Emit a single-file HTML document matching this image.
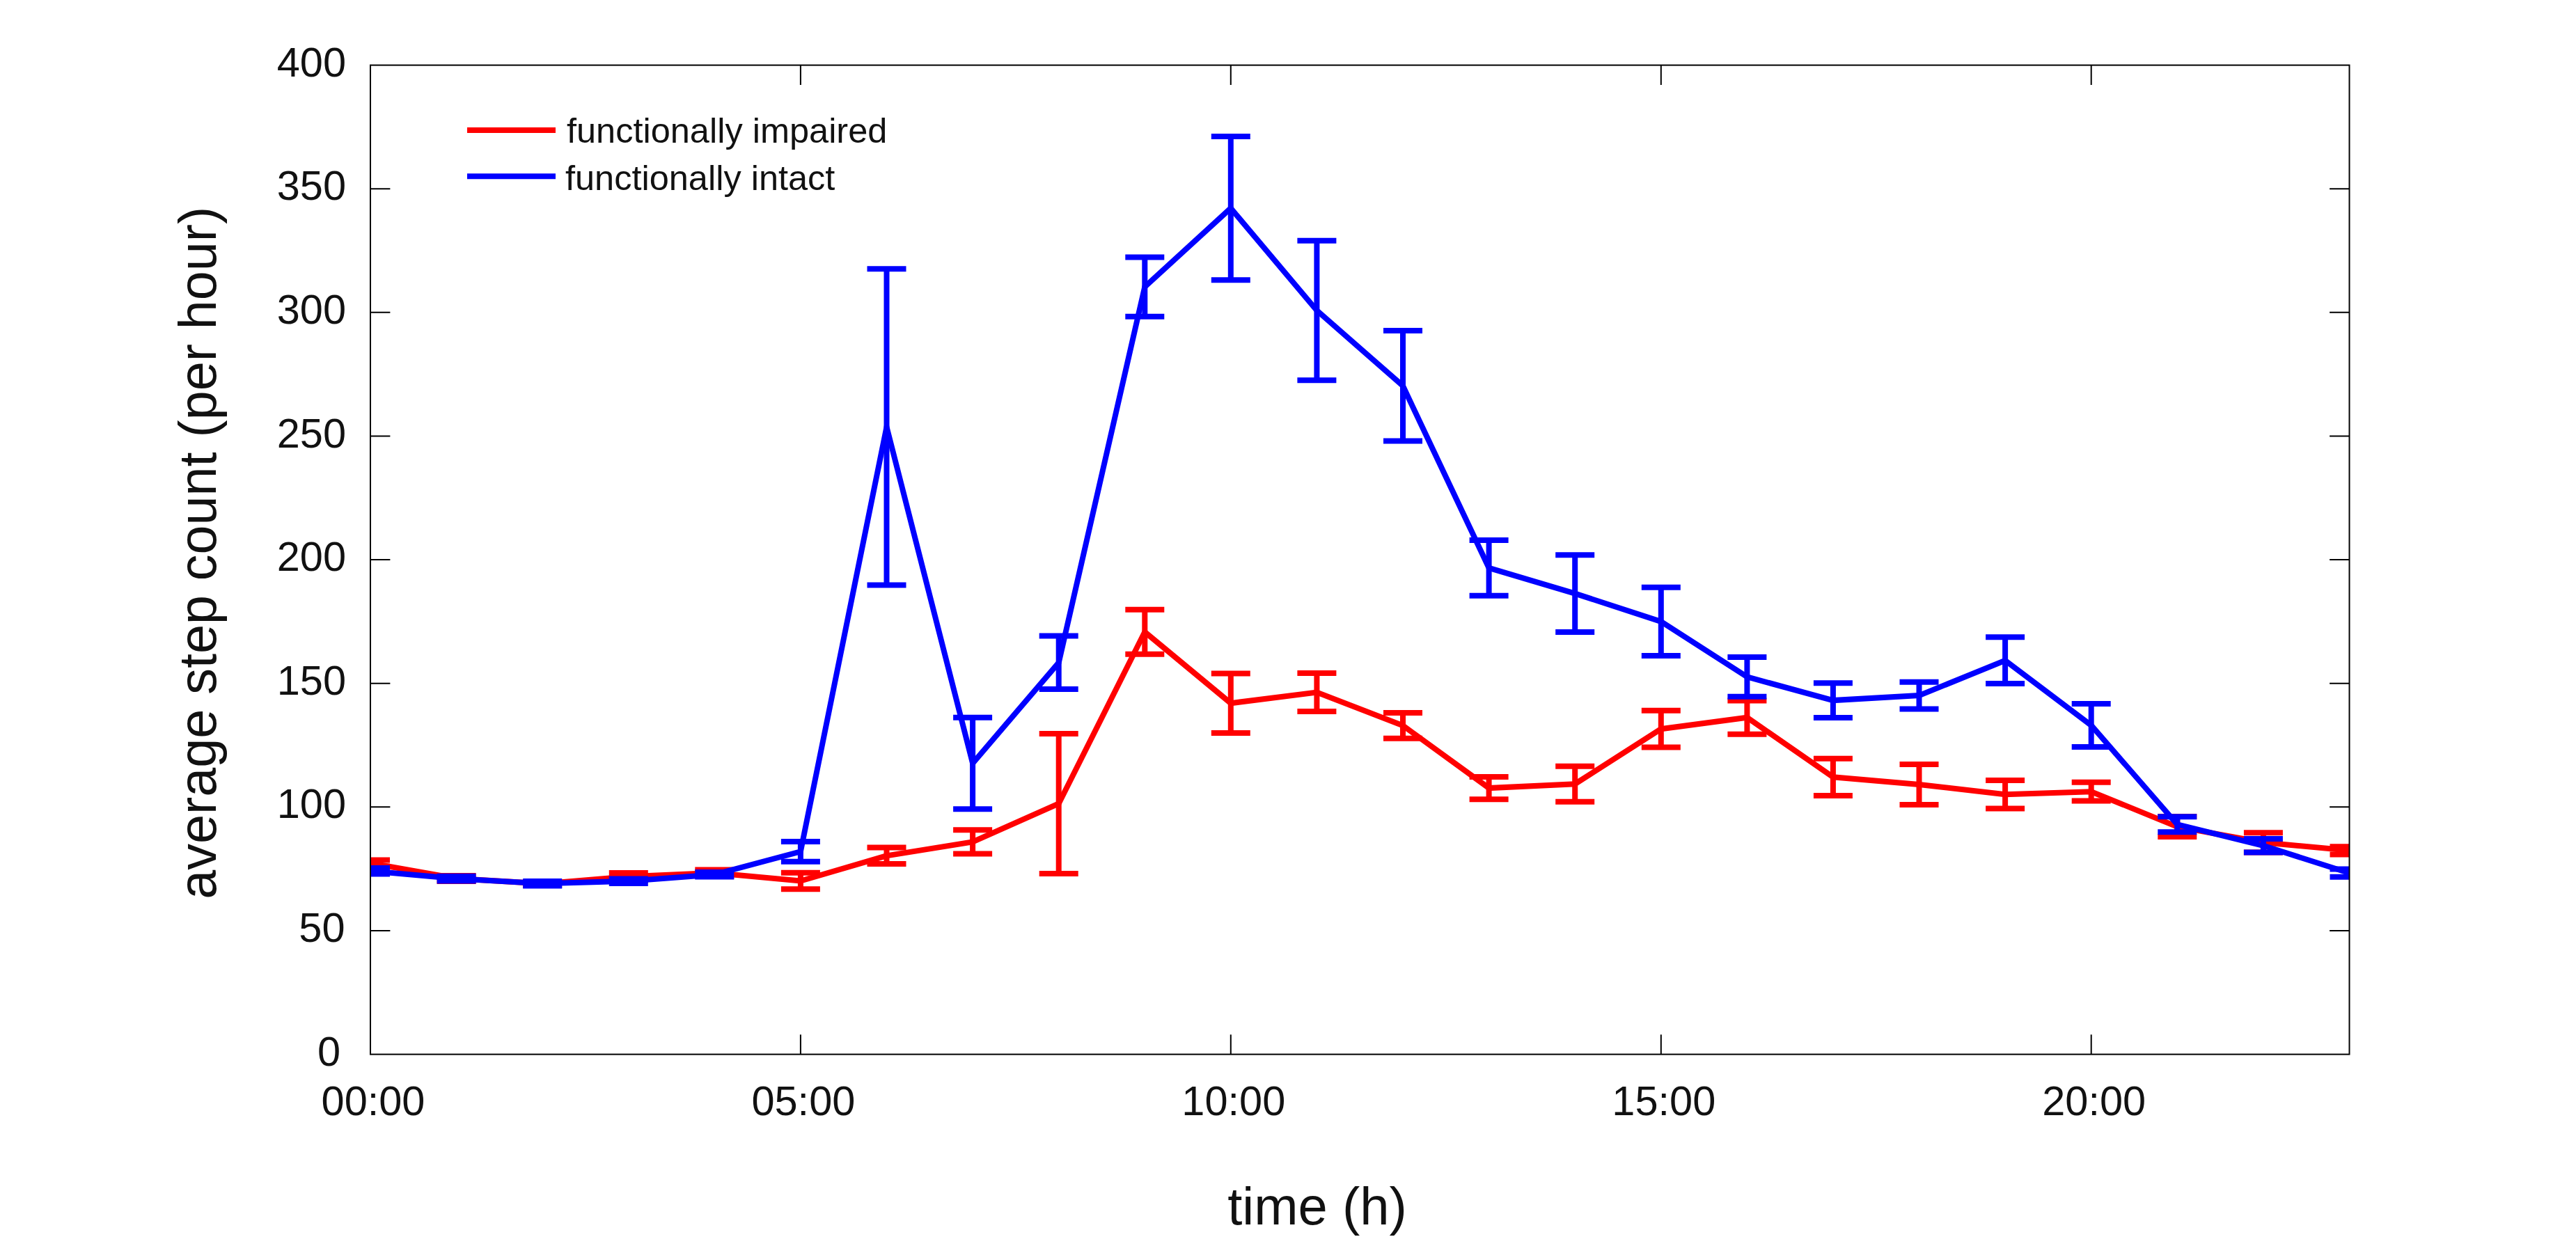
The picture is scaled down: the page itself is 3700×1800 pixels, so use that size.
<!DOCTYPE html>
<html><head><meta charset="utf-8"><style>
html,body{margin:0;padding:0;background:#fff;}
svg{display:block;}
text{font-family:"Liberation Sans",sans-serif;fill:#111;}
</style></head><body>
<svg width="3700" height="1800" viewBox="0 0 3700 1800">
<defs><clipPath id="c"><rect x="532.0" y="93.6" width="2842.5" height="1421.0"/></clipPath></defs>
<rect width="3700" height="1800" fill="#fff"/>
<g clip-path="url(#c)">
<path d="M532.0 1235.4V1244.6M504.0 1235.4H560.0M504.0 1244.6H560.0M655.6 1258.0V1266.0M627.6 1258.0H683.6M627.6 1266.0H683.6M779.2 1267.0V1272.0M751.2 1267.0H807.2M751.2 1272.0H807.2M902.8 1253.9V1264.5M874.8 1253.9H930.8M874.8 1264.5H930.8M1026.3 1249.6V1258.5M998.3 1249.6H1054.3M998.3 1258.5H1054.3M1149.9 1253.8V1277.2M1121.9 1253.8H1177.9M1121.9 1277.2H1177.9M1273.5 1217.6V1241.0M1245.5 1217.6H1301.5M1245.5 1241.0H1301.5M1397.1 1192.2V1226.6M1369.1 1192.2H1425.1M1369.1 1226.6H1425.1M1520.7 1054.0V1255.1M1492.7 1054.0H1548.7M1492.7 1255.1H1548.7M1644.3 875.7V939.8M1616.3 875.7H1672.3M1616.3 939.8H1672.3M1767.8 967.5V1052.9M1739.8 967.5H1795.8M1739.8 1052.9H1795.8M1891.4 967.0V1022.0M1863.4 967.0H1919.4M1863.4 1022.0H1919.4M2015.0 1023.9V1060.8M1987.0 1023.9H2043.0M1987.0 1060.8H2043.0M2138.6 1115.9V1148.3M2110.6 1115.9H2166.6M2110.6 1148.3H2166.6M2262.2 1100.7V1151.8M2234.2 1100.7H2290.2M2234.2 1151.8H2290.2M2385.8 1020.8V1073.6M2357.8 1020.8H2413.8M2357.8 1073.6H2413.8M2509.4 1006.6V1054.7M2481.4 1006.6H2537.4M2481.4 1054.7H2537.4M2632.9 1089.7V1142.9M2604.9 1089.7H2660.9M2604.9 1142.9H2660.9M2756.5 1098.0V1155.9M2728.5 1098.0H2784.5M2728.5 1155.9H2784.5M2880.1 1121.1V1161.5M2852.1 1121.1H2908.1M2852.1 1161.5H2908.1M3003.7 1123.7V1150.6M2975.7 1123.7H3031.7M2975.7 1150.6H3031.7M3127.3 1173.1V1202.1M3099.3 1173.1H3155.3M3099.3 1202.1H3155.3M3250.9 1196.3V1224.4M3222.9 1196.3H3278.9M3222.9 1224.4H3278.9M3374.5 1216.2V1227.4M3346.5 1216.2H3402.5M3346.5 1227.4H3402.5" stroke="#ff0000" stroke-width="8" fill="none" stroke-linecap="butt"/>
<polyline points="532.0,1240.0 655.6,1262.0 779.2,1269.5 902.8,1259.2 1026.3,1254.0 1149.9,1265.5 1273.5,1229.3 1397.1,1209.4 1520.7,1154.5 1644.3,907.8 1767.8,1010.2 1891.4,994.5 2015.0,1042.3 2138.6,1132.1 2262.2,1126.2 2385.8,1047.2 2509.4,1030.7 2632.9,1116.3 2756.5,1127.0 2880.1,1141.3 3003.7,1137.2 3127.3,1187.6 3250.9,1210.3 3374.5,1221.8" stroke="#ff0000" stroke-width="8" fill="none" stroke-linejoin="miter" stroke-miterlimit="10"/>

<path d="M532.0 1247.1V1255.4M504.0 1247.1H560.0M504.0 1255.4H560.0M655.6 1258.7V1265.6M627.6 1258.7H683.6M627.6 1265.6H683.6M779.2 1266.1V1272.6M751.2 1266.1H807.2M751.2 1272.6H807.2M902.8 1262.5V1269.0M874.8 1262.5H930.8M874.8 1269.0H930.8M1026.3 1253.0V1259.6M998.3 1253.0H1054.3M998.3 1259.6H1054.3M1149.9 1208.9V1237.7M1121.9 1208.9H1177.9M1121.9 1237.7H1177.9M1273.5 386.3V840.5M1245.5 386.3H1301.5M1245.5 840.5H1301.5M1397.1 1030.7V1162.2M1369.1 1030.7H1425.1M1369.1 1162.2H1425.1M1520.7 913.5V990.1M1492.7 913.5H1548.7M1492.7 990.1H1548.7M1644.3 369.6V454.7M1616.3 369.6H1672.3M1616.3 454.7H1672.3M1767.8 196.0V402.3M1739.8 196.0H1795.8M1739.8 402.3H1795.8M1891.4 345.8V546.3M1863.4 345.8H1919.4M1863.4 546.3H1919.4M2015.0 475.0V633.6M1987.0 475.0H2043.0M1987.0 633.6H2043.0M2138.6 776.1V855.7M2110.6 776.1H2166.6M2110.6 855.7H2166.6M2262.2 797.3V908.0M2234.2 797.3H2290.2M2234.2 908.0H2290.2M2385.8 843.8V942.1M2357.8 843.8H2413.8M2357.8 942.1H2413.8M2509.4 944.0V1000.8M2481.4 944.0H2537.4M2481.4 1000.8H2537.4M2632.9 981.2V1031.0M2604.9 981.2H2660.9M2604.9 1031.0H2660.9M2756.5 979.8V1018.4M2728.5 979.8H2784.5M2728.5 1018.4H2784.5M2880.1 915.3V982.1M2852.1 915.3H2908.1M2852.1 982.1H2908.1M3003.7 1011.1V1072.9M2975.7 1011.1H3031.7M2975.7 1072.9H3031.7M3127.3 1173.3V1195.3M3099.3 1173.3H3155.3M3099.3 1195.3H3155.3M3250.9 1205.1V1224.5M3222.9 1205.1H3278.9M3222.9 1224.5H3278.9M3374.5 1248.6V1259.7M3346.5 1248.6H3402.5M3346.5 1259.7H3402.5" stroke="#0000ff" stroke-width="8" fill="none" stroke-linecap="butt"/>
<polyline points="532.0,1251.2 655.6,1262.2 779.2,1269.3 902.8,1265.8 1026.3,1256.3 1149.9,1223.3 1273.5,613.4 1397.1,1096.5 1520.7,951.8 1644.3,412.1 1767.8,299.1 1891.4,446.0 2015.0,554.3 2138.6,815.9 2262.2,852.6 2385.8,893.0 2509.4,972.4 2632.9,1006.1 2756.5,999.1 2880.1,948.7 3003.7,1042.0 3127.3,1184.3 3250.9,1214.8 3374.5,1254.2" stroke="#0000ff" stroke-width="8" fill="none" stroke-linejoin="miter" stroke-miterlimit="10"/>

</g>
<rect x="532.0" y="93.6" width="2842.5" height="1421.0" fill="none" stroke="#000" stroke-width="2"/>
<path d="M532.0 1337.0H560.4M3374.5 1337.0H3346.1M532.0 1159.3H560.4M3374.5 1159.3H3346.1M532.0 981.7H560.4M3374.5 981.7H3346.1M532.0 804.1H560.4M3374.5 804.1H3346.1M532.0 626.5H560.4M3374.5 626.5H3346.1M532.0 448.8H560.4M3374.5 448.8H3346.1M532.0 271.2H560.4M3374.5 271.2H3346.1M1149.9 1514.6V1486.2M1149.9 93.6V122.0M1767.8 1514.6V1486.2M1767.8 93.6V122.0M2385.8 1514.6V1486.2M2385.8 93.6V122.0M3003.7 1514.6V1486.2M3003.7 93.6V122.0" stroke="#000" stroke-width="2" fill="none"/>
<g font-size="59.5">
<text x="489" y="1530.6" text-anchor="end">0</text><text x="495.5" y="1353.0" text-anchor="end">50</text><text x="497" y="1175.3" text-anchor="end">100</text><text x="497" y="997.7" text-anchor="end">150</text><text x="497" y="820.1" text-anchor="end">200</text><text x="497" y="642.5" text-anchor="end">250</text><text x="497" y="464.8" text-anchor="end">300</text><text x="497" y="287.2" text-anchor="end">350</text><text x="497" y="109.6" text-anchor="end">400</text>
<text x="536.0" y="1602" text-anchor="middle">00:00</text><text x="1153.9" y="1602" text-anchor="middle">05:00</text><text x="1771.8" y="1602" text-anchor="middle">10:00</text><text x="2389.8" y="1602" text-anchor="middle">15:00</text><text x="3007.7" y="1602" text-anchor="middle">20:00</text>
</g>
<path d="M671 187H798" stroke="#ff0000" stroke-width="8"/>
<path d="M671 253.2H798" stroke="#0000ff" stroke-width="8"/>
<g font-size="50.5">
<text x="814" y="205">functionally impaired</text>
<text x="812" y="273.3">functionally intact</text>
</g>
<text x="1892" y="1758.8" font-size="76" text-anchor="middle">time (h)</text>
<text transform="translate(309.5,794.3) rotate(-90)" x="0" y="0" font-size="75.5" text-anchor="middle">average step count (per hour)</text>
</svg>
</body></html>
